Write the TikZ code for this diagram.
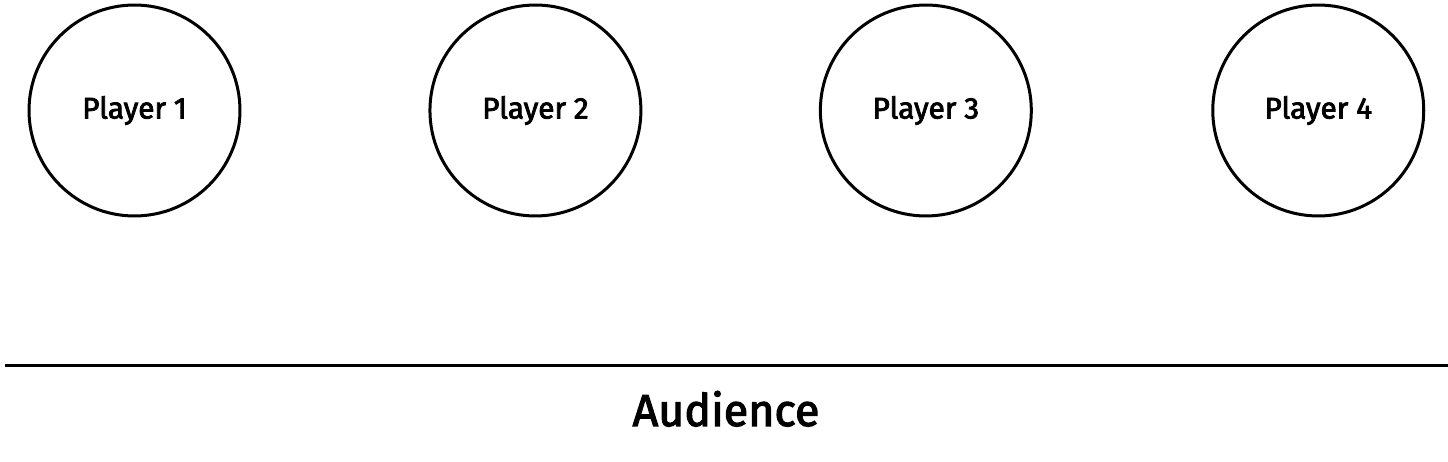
\documentclass[tikz,border=0pt]{standalone}
\usepackage{fontspec}
\setmainfont{Fira Sans}[BoldFont=Fira Sans, BoldFeatures={FakeBold=2.6}]
\usetikzlibrary{positioning}

\begin{document}
\begin{tikzpicture}[
  x=0.02cm, y=-0.02cm,
  node distance=3.6cm,
  player/.style={circle, draw=black, line width=0.06cm, minimum size=4.22cm,
               inner sep=0pt, font=\fontsize{17}{20}\selectfont\bfseries},
  stage/.style={line width=0.06cm, draw=black}
]
  \useasboundingbox (0,0) rectangle (1448,462);
  \node[player] (p1) at (134.5,110.5) {Player 1};
  \node[player, right=3.74cm of p1] (p2) {Player 2};
  \node[player, right=3.53cm of p2] (p3) {Player 3};
  \node[player, right=3.57cm of p3] (p4) {Player 4};

  \coordinate (edgeL) at (5,366);
  \coordinate (edgeR) at (1448,366);
  \draw[stage] (edgeL) -- (edgeR);
  \node[anchor=base, font=\fontsize{25.5}{30}\selectfont\bfseries] (aud) at (726,426) {Audience};
\end{tikzpicture}
\end{document}
